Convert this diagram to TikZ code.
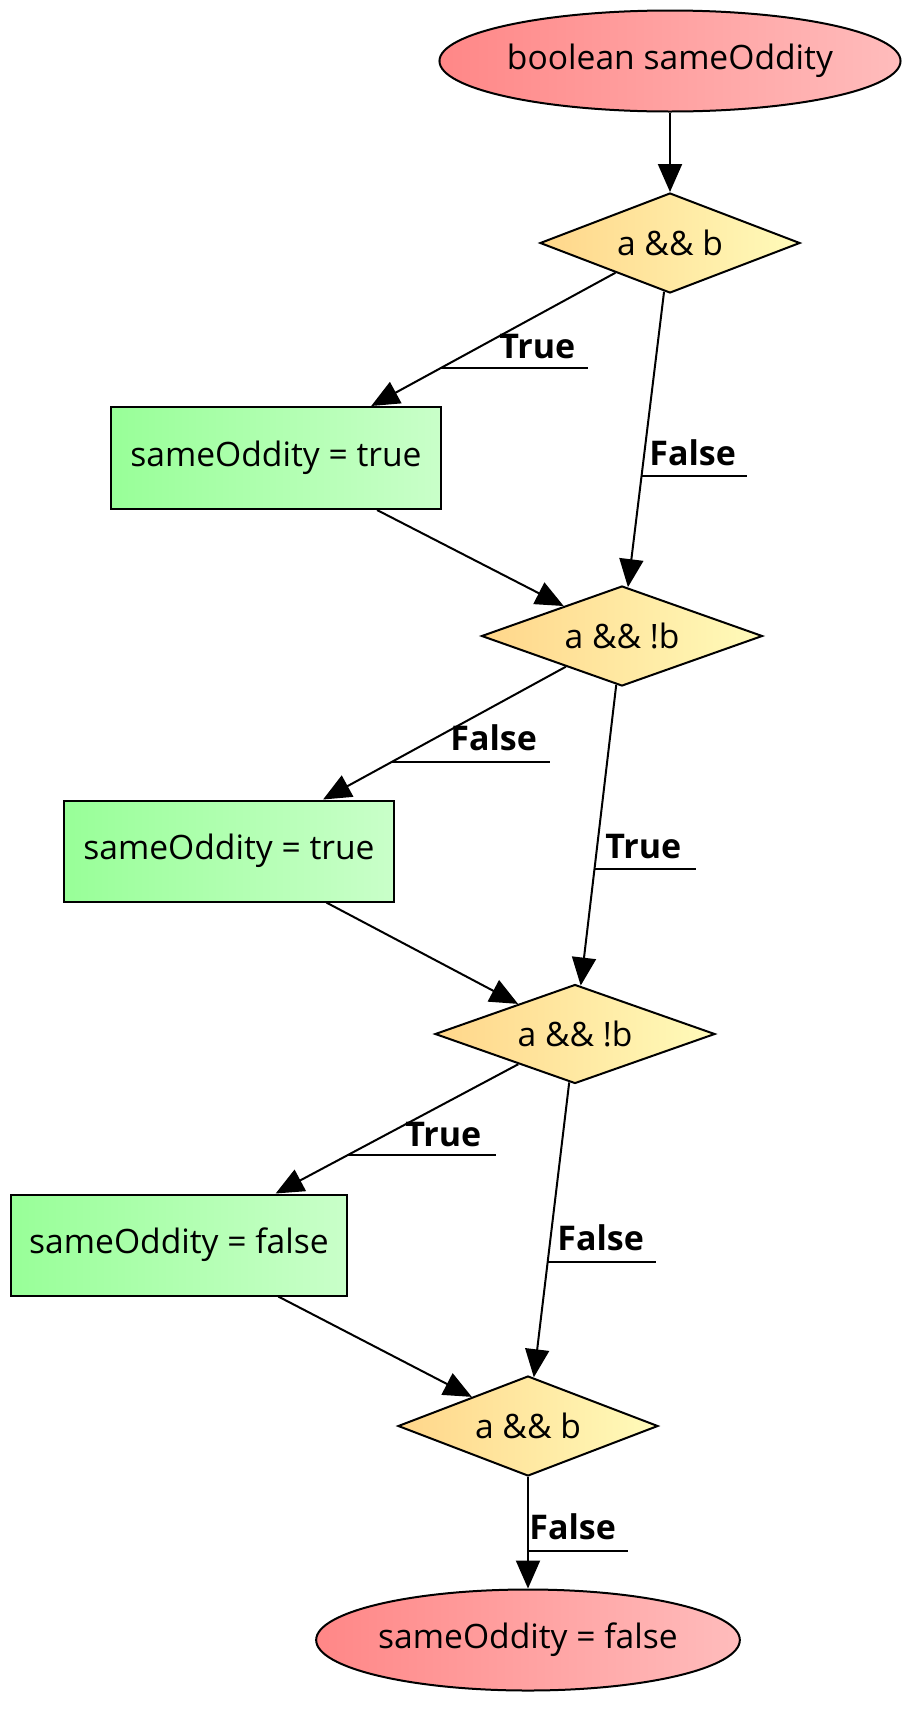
\documentclass[tikz,border=0pt]{standalone}
\usepackage{fontspec}
\setmainfont{Open Sans}
\usetikzlibrary{shapes.geometric,arrows.meta,calc}
\definecolor{termL}{HTML}{FF8787}
\definecolor{termR}{HTML}{FFBCBC}
\definecolor{condL}{HTML}{FFD68A}
\definecolor{condR}{HTML}{FFFBBA}
\definecolor{actL}{HTML}{98FF98}
\definecolor{actR}{HTML}{C9FFC9}
\begin{document}
\begin{tikzpicture}[x=0.5pt,y=-0.5pt,
  base/.style={draw=black, line width=1pt, font=\fontsize{16.8}{20}\selectfont, inner sep=0pt},
  term/.style={base, ellipse, left color=termL, right color=termR},
  cond/.style={base, diamond, aspect=2.6, left color=condL, right color=condR},
  act/.style={base, rectangle, left color=actL, right color=actR},
  edge/.style={line width=1pt, -{Triangle[length=14pt,width=12pt]}},
  lab/.style={font=\bfseries\fontsize{17}{20}\selectfont, anchor=base west, inner sep=0pt},
  uline/.style={line width=1pt}]
\useasboundingbox (0,0) rectangle (917,1714);

% nodes
\node[term, minimum width=227.5pt, minimum height=50.5pt] (e1) at (670,61) {boolean sameOddity};
\node[cond, minimum width=130pt, minimum height=50pt] (d1) at (670,243) {a \&\& b};
\node[act, minimum width=165pt, minimum height=51pt] (r1) at (276,458) {sameOddity = true};
\node[cond, minimum width=140.5pt, minimum height=50pt] (d2) at (622,636) {a \&\& !b};
\node[act, minimum width=165pt, minimum height=50.5pt] (r2) at (229,851) {sameOddity = true};
\node[cond, minimum width=140pt, minimum height=49.5pt] (d3) at (575,1034) {a \&\& !b};
\node[act, minimum width=168pt, minimum height=50.5pt] (r3) at (179,1245) {sameOddity = false};
\node[cond, minimum width=130pt, minimum height=50pt] (d4) at (528,1426) {a \&\& b};
\node[term, minimum width=210pt, minimum height=50.5pt] (e2) at (528,1640) {sameOddity = false};

% edges
\draw[edge] (e1) -- (d1);
\draw[edge] (d1) -- (r1);
\draw[edge] (d1) -- (d2);
\draw[edge] (r1) -- (d2);
\draw[edge] (d2) -- (r2);
\draw[edge] (d2) -- (d3);
\draw[edge] (r2) -- (d3);
\draw[edge] (d3) -- (r3);
\draw[edge] (d3) -- (d4);
\draw[edge] (r3) -- (d4);
\draw[edge] (d4) -- (e2);

% labels with underline
\node[lab] (l1) at (499,358) {True};
\draw[uline] ($(d1)!0.581!(r1)$) -- ++(147,0);
\node[lab] (l2) at (649,465) {False};
\draw[uline] ($(d1)!0.593!(d2)$) -- ++(105,0);
\node[lab] (l3) at (450,750) {False};
\draw[uline] ($(d2)!0.584!(r2)$) -- ++(158,0);
\node[lab] (l4) at (605,858) {True};
\draw[uline] ($(d2)!0.585!(d3)$) -- ++(101,0);
\node[lab] (l5) at (405,1146) {True};
\draw[uline] ($(d3)!0.573!(r3)$) -- ++(148,0);
\node[lab] (l6) at (557,1250) {False};
\draw[uline] ($(d3)!0.582!(d4)$) -- ++(108,0);
\node[lab] (l7) at (529,1539) {False};
\draw[uline] ($(d4)!0.584!(e2)$) -- ++(100,0);
\end{tikzpicture}
\end{document}
